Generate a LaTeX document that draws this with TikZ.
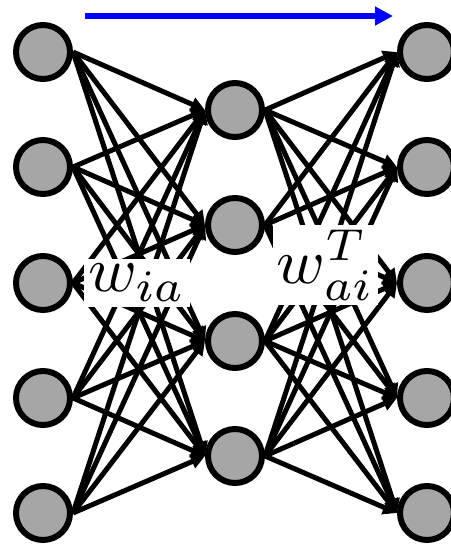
\documentclass[tikz,border=0pt]{standalone}
\usepackage{tikz}
\usetikzlibrary{arrows.meta}

\begin{document}
\begin{tikzpicture}[x=1pt,y=-1pt,
  neuron/.style={circle,draw=black,line width=6pt,fill=black!35,
                 minimum size=54pt,inner sep=0pt},
  wlabel/.style={fill=white,inner xsep=0.6pt,inner ysep=0.8pt,xscale=6.6,yscale=6.4},
  arr/.style={-{Triangle[length=14pt,width=14pt]},line width=5pt,draw=black},
  flow/.style={-{Triangle[length=18pt,width=18pt]},line width=6pt,draw=blue}
]
\useasboundingbox (0,0) rectangle (450,546);

% input layer
\node[neuron] (in1) at (43,52) {};
\node[neuron] (in2) at (43,167) {};
\node[neuron] (in3) at (43,283) {};
\node[neuron] (in4) at (43,398) {};
\node[neuron] (in5) at (43,513) {};
% hidden layer
\node[neuron] (hid1) at (235,110) {};
\node[neuron] (hid2) at (235,225) {};
\node[neuron] (hid3) at (235,341) {};
\node[neuron] (hid4) at (235,456) {};
% output layer
\node[neuron] (out1) at (427,52) {};
\node[neuron] (out2) at (427,167) {};
\node[neuron] (out3) at (427,283) {};
\node[neuron] (out4) at (427,398) {};
\node[neuron] (out5) at (427,513) {};

\foreach \i in {1,...,5}
  \foreach \a in {1,...,4} {
    \draw[arr] (in\i.east)--(hid\a.west);
    \draw[arr] (hid\a.east)--(out\i.west);
  }

\node[wlabel] (wenc) at (137,283) {$w_{ia}$};
\node[wlabel] (wdec) at (325.5,265) {$w^T_{ai}$};

\coordinate (fstart) at (85,16);
\coordinate (fend) at (393,16);
\draw[flow] (fstart)--(fend);
\end{tikzpicture}
\end{document}
